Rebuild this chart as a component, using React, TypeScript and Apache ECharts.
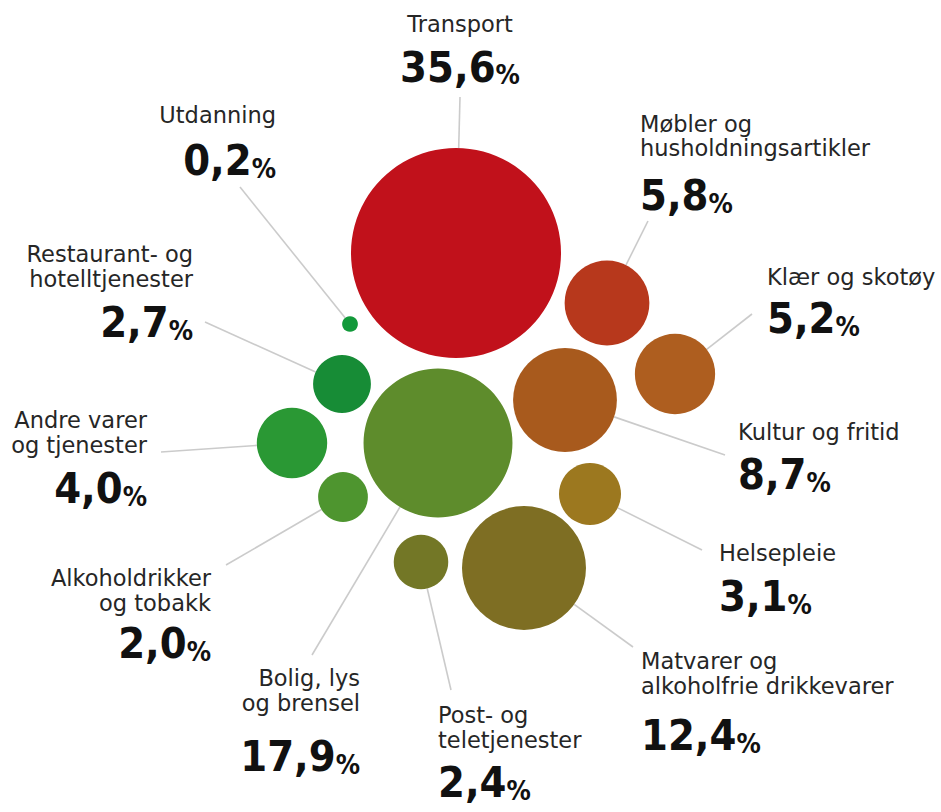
import React, { useEffect, useRef } from "react";
import * as echarts from "echarts";

// ---- data ----
const categories = [
  "Transport",
  "Møbler og\nhusholdningsartikler",
  "Klær og skotøy",
  "Kultur og fritid",
  "Helsepleie",
  "Matvarer og\nalkoholfrie drikkevarer",
  "Post- og\nteletjenester",
  "Bolig, lys\nog brensel",
  "Alkoholdrikker\nog tobakk",
  "Andre varer\nog tjenester",
  "Restaurant- og\nhotelltjenester",
  "Utdanning",
];
const shares = [35.6, 5.8, 5.2, 8.7, 3.1, 12.4, 2.4, 17.9, 2.0, 4.0, 2.7, 0.2];

// ---- layout (bubble centres in chart units) ----
const bubbleX = [456, 607, 675, 565, 590, 524, 421, 438, 343, 292, 342, 350];
const bubbleY = [253, 303, 374, 400, 494, 568, 562, 443, 497, 443, 384, 324];
const colors = [
  "#c1111b", "#b7381c", "#ae5e1f", "#a85a1d", "#9c781f", "#7e6e23",
  "#737726", "#5e8c2c", "#4e952f", "#2a9834", "#178c36", "#12993a",
];

// ---- label layout ----
const labelX = [460, 640, 767, 738, 719, 641, 438, 360, 211, 147, 193, 276];
const labelAlign = ["center", "left", "left", "left", "left", "left", "left", "right", "right", "right", "right", "right"];
const nameY = [23.5, 123.5, 277, 432, 553, 661, 715, 678, 578, 420, 254, 115];
const valueY = [66.5, 195, 318, 474, 596, 735, 782, 756, 643, 488, 322, 160];
const lineStartX = [460, 648, 752, 725, 702, 633, 451, 312, 226, 161, 205, 240];
const lineStartY = [97, 221, 314, 455, 550, 647, 690, 655, 565, 452, 322, 187];

const R_SCALE = 17.6; // radius units per sqrt(percent)

const fmt = (v: number) => v.toFixed(1).replace(".", ",");

export default function App() {
  const ref = useRef<HTMLDivElement>(null);
  useEffect(() => {
    const chart = echarts.init(ref.current!, null, { renderer: "svg" });
    const option: any = {
      animation: false,
      backgroundColor: "#ffffff",
      grid: { left: 0, right: 0, top: 0, bottom: 0 },
      xAxis: { type: "value", min: 0, max: 941, show: false },
      yAxis: { type: "value", min: 0, max: 812, inverse: true, show: false },
      series: [
        {
          type: "custom",
          z: 1,
          clip: false,
          silent: true,
          data: categories.map((c, i) => [lineStartX[i], lineStartY[i], shares[i]]),
          renderItem: (params: any, api: any) => {
            const i = params.dataIndex;
            const c = api.coord([bubbleX[i], bubbleY[i]]);
            const r = api.size([R_SCALE * Math.sqrt(shares[i]), 0])[0];
            const s = api.coord([lineStartX[i], lineStartY[i]]);
            const dx = s[0] - c[0];
            const dy = s[1] - c[1];
            const d = Math.sqrt(dx * dx + dy * dy) || 1;
            const e = [c[0] + (dx / d) * r, c[1] + (dy / d) * r];
            const np = api.coord([labelX[i], nameY[i]]);
            const vp = api.coord([labelX[i], valueY[i]]);
            return {
              type: "group",
              children: [
                {
                  type: "line",
                  shape: { x1: s[0], y1: s[1], x2: e[0], y2: e[1] },
                  style: { stroke: "#cbcbcb", lineWidth: 1.6 },
                },
                {
                  type: "text",
                  x: np[0],
                  y: np[1] - 12.25,
                  style: {
                    text: categories[i],
                    fontFamily: "DejaVu Sans",
                    fontSize: 22.5,
                    lineHeight: 24.5,
                    fill: "#262626",
                    align: labelAlign[i],
                    verticalAlign: "top",
                  },
                },
                {
                  type: "text",
                  x: vp[0],
                  y: vp[1],
                  style: {
                    text: `{v|${fmt(shares[i])}}{p|%}`,
                    align: labelAlign[i],
                    verticalAlign: "middle",
                    rich: {
                      v: {
                        fontFamily: "DejaVu Sans Condensed",
                        fontWeight: "bold",
                        fontSize: 43,
                        lineHeight: 43,
                        fill: "#111111",
                        verticalAlign: "bottom",
                      },
                      p: {
                        fontFamily: "DejaVu Sans Condensed",
                        fontWeight: "bold",
                        fontSize: 27,
                        lineHeight: 33,
                        fill: "#111111",
                        verticalAlign: "bottom",
                      },
                    },
                  },
                },
              ],
            };
          },
        },
        {
          type: "scatter",
          z: 2,
          silent: true,
          symbol: "circle",
          symbolSize: (val: number[]) => 2 * R_SCALE * Math.sqrt(val[2]),
          data: shares.map((v, i) => ({
            name: categories[i],
            value: [bubbleX[i], bubbleY[i], v],
            itemStyle: { color: colors[i], opacity: 1 },
          })),
        },
      ],
    };
    chart.setOption(option);
    return () => chart.dispose();
  }, []);
  return (
    <div
      ref={ref}
      style={{ position: "absolute", left: 0, top: 0, width: 941, height: 812 }}
    />
  );
}
